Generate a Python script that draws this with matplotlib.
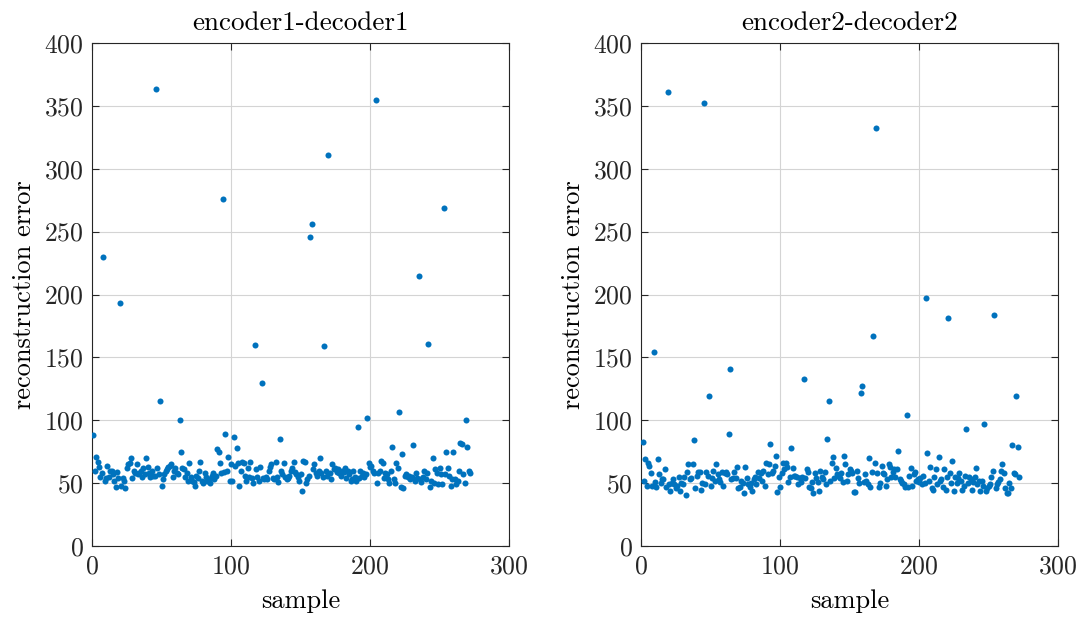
import numpy as np
import matplotlib
matplotlib.use("Agg")
import matplotlib.pyplot as plt

# ---------------- data ----------------
titles = ["encoder1-decoder1", "encoder2-decoder2"]
x_label = "sample"
y_label = "reconstruction error"
x_ticks = [0, 100, 200, 300]
y_ticks = [0, 50, 100, 150, 200, 250, 300, 350, 400]

err_enc1 = [
    88, 60, 71, 67, 63, 55, 58, 230, 52, 54,
    64, 55, 60, 60, 57, 52, 47, 59, 54, 193,
    48, 54, 52, 46, 62, 65, 66, 70, 54, 60,
    58, 65, 57, 58, 60, 55, 62, 57, 70, 63,
    58, 55, 60, 56, 56, 363, 62, 57, 115, 48,
    53, 57, 60, 61, 63, 64, 65, 55, 60, 62,
    58, 57, 100, 75, 62, 61, 55, 58, 52, 66,
    55, 52, 51, 48, 56, 54, 60, 67, 52, 50,
    58, 55, 52, 53, 50, 56, 58, 53, 56, 77,
    75, 66, 58, 276, 59, 89, 60, 71, 52, 65,
    52, 87, 64, 78, 66, 48, 60, 67, 66, 56,
    52, 62, 55, 67, 54, 50, 160, 61, 55, 52,
    63, 130, 54, 53, 55, 53, 60, 63, 65, 54,
    53, 67, 55, 51, 85, 60, 57, 66, 55, 53,
    54, 56, 60, 62, 67, 59, 57, 55, 52, 57,
    44, 68, 67, 50, 53, 56, 246, 256, 61, 65,
    58, 56, 60, 70, 58, 55, 159, 60, 56, 311,
    58, 53, 65, 61, 62, 59, 61, 58, 56, 60,
    59, 62, 54, 60, 57, 52, 53, 60, 55, 52,
    95, 54, 60, 56, 58, 55, 57, 102, 66, 63,
    64, 60, 58, 355, 50, 58, 60, 68, 66, 54,
    58, 57, 53, 50, 60, 79, 53, 50, 66, 62,
    107, 47, 73, 46, 56, 57, 55, 56, 53, 55,
    80, 52, 58, 54, 215, 53, 51, 55, 60, 53,
    58, 161, 47, 52, 70, 50, 61, 58, 49, 62,
    57, 49, 269, 57, 75, 62, 56, 48, 53, 75,
    53, 49, 52, 60, 82, 81, 57, 50, 100, 79,
    60, 58,
]

err_enc2 = [
    83, 52, 69, 48, 66, 64, 58, 48, 154, 51,
    47, 69, 57, 50, 53, 53, 61, 47, 361, 49,
    44, 50, 53, 49, 46, 48, 55, 44, 50, 49,
    55, 41, 59, 65, 53, 54, 65, 84, 46, 56,
    59, 59, 45, 50, 352, 49, 59, 56, 119, 48,
    54, 60, 52, 65, 57, 53, 51, 59, 48, 58,
    59, 57, 89, 141, 53, 54, 59, 54, 63, 46,
    47, 52, 50, 42, 63, 54, 49, 47, 50, 44,
    53, 55, 49, 59, 54, 58, 52, 60, 48, 66,
    57, 65, 81, 58, 60, 64, 72, 43, 55, 47,
    58, 66, 61, 66, 63, 51, 55, 78, 62, 56,
    56, 55, 49, 54, 51, 55, 133, 54, 61, 59,
    47, 46, 51, 42, 58, 54, 51, 44, 60, 55,
    53, 59, 49, 85, 115, 52, 66, 71, 54, 62,
    57, 56, 54, 58, 51, 72, 65, 52, 57, 61,
    60, 58, 43, 43, 60, 54, 50, 122, 127, 51,
    57, 52, 49, 70, 47, 59, 167, 66, 332, 58,
    47, 50, 64, 58, 57, 48, 53, 65, 63, 55,
    59, 61, 55, 61, 76, 53, 52, 50, 49, 47,
    104, 47, 56, 62, 48, 57, 59, 52, 53, 51,
    54, 49, 56, 50, 197, 74, 52, 63, 46, 45,
    55, 61, 49, 71, 52, 53, 47, 61, 45, 55,
    181, 58, 50, 68, 44, 55, 50, 54, 58, 52,
    45, 48, 56, 93, 50, 55, 53, 45, 51, 55,
    62, 49, 52, 44, 52, 48, 97, 44, 46, 48,
    49, 55, 60, 184, 46, 49, 51, 53, 60, 65,
    58, 46, 42, 42, 50, 46, 80, 58, 57, 119,
    79, 55,
]

series = [err_enc1, err_enc2]

# ---------------- style ----------------
plt.rcParams["font.family"] = ["cmr10", "DejaVu Serif"]
plt.rcParams["axes.formatter.use_mathtext"] = True
plt.rcParams["mathtext.fontset"] = "cm"

dot_color = "#0072BD"
axis_color = "#262626"

fig = plt.figure(figsize=(10.83, 6.22), dpi=100)
positions = [[0.085, 0.122, 0.385, 0.809], [0.592, 0.122, 0.385, 0.809]]

for pos, title, vals in zip(positions, titles, series):
    ax = fig.add_axes(pos)
    xs = np.arange(1, len(vals) + 1)
    ax.scatter(xs, vals, s=19, color=dot_color, linewidths=0, zorder=3)
    ax.set_xlim(0, 300)
    ax.set_ylim(0, 400)
    ax.set_xticks(x_ticks)
    ax.set_yticks(y_ticks)
    ax.grid(True, color="#d4d4d4", linewidth=0.8)
    ax.set_axisbelow(True)
    ax.tick_params(direction="in", top=True, right=True, length=5,
                   width=0.8, colors=axis_color, labelsize=18.5, pad=6)
    for sp in ax.spines.values():
        sp.set_color(axis_color)
        sp.set_linewidth(0.8)
    ax.set_title(title, fontsize=19.5, color="black", pad=9)
    ax.set_xlabel(x_label, fontsize=19, labelpad=8)
    ax.set_ylabel(y_label, fontsize=19, labelpad=6)

fig.savefig("out.png", dpi=100)
